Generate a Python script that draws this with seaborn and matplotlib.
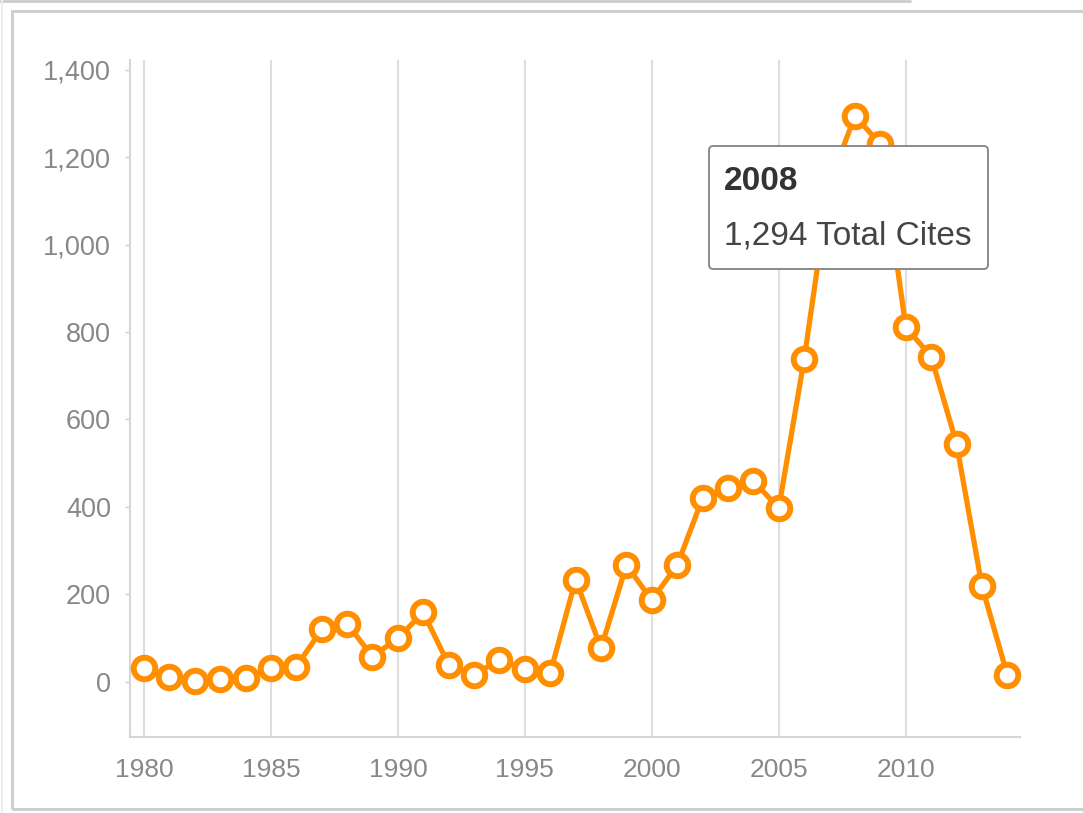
import matplotlib
matplotlib.use("Agg")
import matplotlib.pyplot as plt
import matplotlib.patches as mpatches
import matplotlib.lines as mlines
from matplotlib.ticker import FuncFormatter, FixedLocator
import seaborn as sns
import pandas as pd

years = list(range(1980, 2015))
cites = [31, 11, 3, 6, 8, 31, 35, 120, 133, 58,
         100, 159, 39, 16, 51, 29, 20, 234, 77, 267,
         187, 267, 420, 443, 460, 397, 738, 1140, 1294, 1230,
         811, 744, 545, 219, 16]
y_ticks = [0, 200, 400, 600, 800, 1000, 1200, 1400]
x_ticks = [1980, 1985, 1990, 1995, 2000, 2005, 2010]
tooltip_year = 2008
tooltip_label = "Total Cites"

df = pd.DataFrame({"year": years, "cites": cites})

sns.set_theme(style="white")
plt.rcParams["font.family"] = ["Liberation Sans", "DejaVu Sans"]

W, H = 1083, 813
fig = plt.figure(figsize=(W / 100, H / 100), dpi=100)
ax = fig.add_axes([130 / W, 1 - 737 / H, (1020 - 130) / W, (737 - 60) / H])

orange = "#ff8f00"
sns.lineplot(data=df, x="year", y="cites", ax=ax, color=orange, linewidth=3.8,
             marker="o", markersize=15.5, markerfacecolor="white",
             markeredgecolor=orange, markeredgewidth=4.3, zorder=3, clip_on=False)

ax.set_xlim(1979.45, 2014.5)
ax.set_ylim(-126, 1422)
ax.set_xlabel("")
ax.set_ylabel("")

for xv in x_ticks:
    ax.axvline(xv, color="#dedede", linewidth=1.5, zorder=1)

ax.xaxis.set_major_locator(FixedLocator(x_ticks))
ax.yaxis.set_major_locator(FixedLocator(y_ticks))
ax.yaxis.set_major_formatter(FuncFormatter(lambda v, p: f"{int(v):,}"))
ax.tick_params(axis="x", length=0, pad=15, labelsize=19, labelcolor="#888888")
ax.tick_params(axis="y", length=3.6, width=1, color="#cccccc", pad=10,
               labelsize=19.5, labelcolor="#888888", left=True)

for s in ["top", "right"]:
    ax.spines[s].set_visible(False)
for s in ["left", "bottom"]:
    ax.spines[s].set_color("#d6d6d6")
    ax.spines[s].set_linewidth(1.5)

# outer frame
fig.patches.append(mpatches.Rectangle((12 / W, 1 - 809 / H), (W + 20) / W, (809 - 11) / H,
                                      transform=fig.transFigure, fill=False,
                                      edgecolor="#cfcfcf", linewidth=2.2, zorder=0))
fig.lines.append(mlines.Line2D([0, 910 / W], [1 - 1 / H, 1 - 1 / H], transform=fig.transFigure,
                               color="#cccccc", linewidth=2))
fig.lines.append(mlines.Line2D([2 / W, 2 / W], [0, 1], transform=fig.transFigure,
                               color="#eeeeee", linewidth=1.5))

# tooltip
idx = years.index(tooltip_year)
bx0, by0, bx1, by1 = 709, 146, 988, 269
box = mpatches.FancyBboxPatch((bx0 / W, 1 - by1 / H), (bx1 - bx0) / W, (by1 - by0) / H,
                              boxstyle="round,pad=0,rounding_size=0.004",
                              mutation_aspect=W / H,
                              transform=fig.transFigure, facecolor="white",
                              edgecolor="#8a8a8a", linewidth=1.4, zorder=10)
fig.patches.append(box)
fig.text(724 / W, 1 - 181 / H, str(years[idx]), fontsize=24, fontweight="bold",
         color="#333333", va="center", ha="left", zorder=11)
fig.text(724 / W, 1 - 236 / H, f"{cites[idx]:,} {tooltip_label}", fontsize=24,
         color="#444444", va="center", ha="left", zorder=11)

fig.savefig("out.png", dpi=100, facecolor="white")
